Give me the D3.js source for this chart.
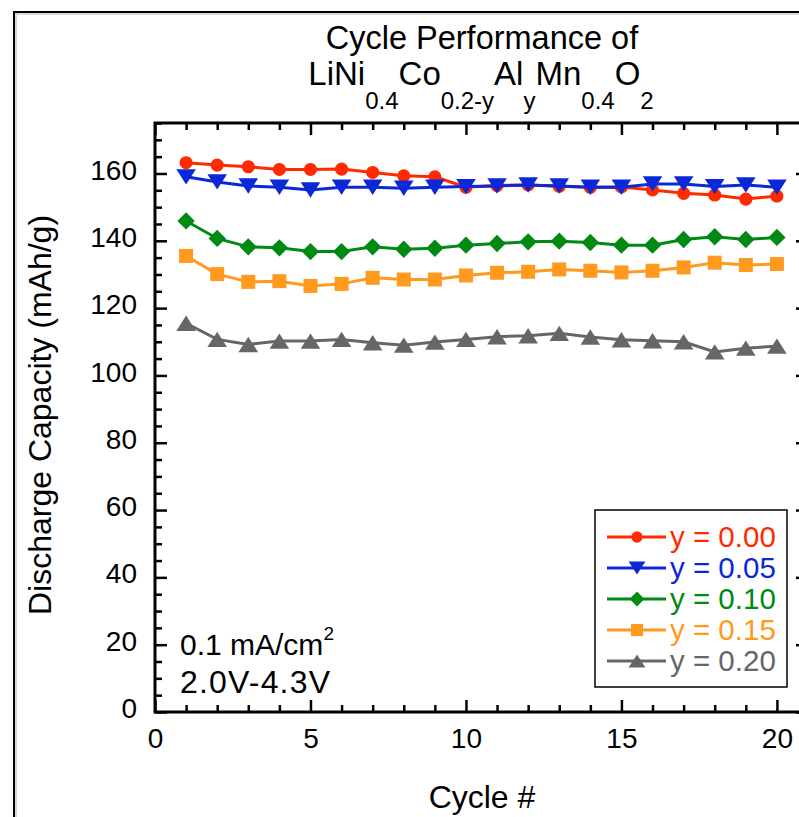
<!DOCTYPE html>
<html>
<head>
<meta charset="utf-8">
<script src="https://cdn.jsdelivr.net/npm/d3@7"></script>
<style>
  body { margin: 0; background: #fff; }
  svg { display: block; }
  text { font-family: "Liberation Sans", Arial, sans-serif; fill: #000; }
</style>
</head>
<body>
<svg id="chart" width="799" height="817"></svg>
<script>
// cycle numbers
var cycles = d3.range(1, 21);

// discharge capacity (mAh/g)
var y000 = [163.2, 162.5, 162.0, 161.2, 161.2, 161.3, 160.3, 159.3, 159.0, 155.9,
            156.4, 156.6, 156.2, 155.9, 156.0, 155.1, 154.1, 153.6, 152.4, 153.3];
var y005 = [159.0, 157.5, 156.3, 155.9, 155.1, 155.9, 155.9, 155.6, 155.9, 156.1,
            156.3, 156.6, 156.3, 155.9, 155.9, 156.9, 156.9, 156.1, 156.6, 155.9];
var y010 = [145.9, 140.7, 138.2, 137.9, 136.8, 136.8, 138.2, 137.5, 137.8, 138.7,
            139.2, 139.7, 139.9, 139.5, 138.7, 138.7, 140.4, 141.2, 140.4, 141.0];
var y015 = [135.5, 130.1, 127.8, 128.0, 126.6, 127.2, 129.0, 128.5, 128.5, 129.7,
            130.5, 130.8, 131.5, 131.1, 130.6, 131.1, 132.1, 133.5, 132.8, 133.1];
var y020 = [115.5, 110.7, 109.2, 110.2, 110.2, 110.7, 109.7, 109.0, 109.9, 110.7,
            111.5, 111.8, 112.5, 111.4, 110.6, 110.3, 110.0, 107.0, 108.1, 108.7];

var seriesNames = ["y = 0.00", "y = 0.05", "y = 0.10", "y = 0.15", "y = 0.20"];
var seriesValues = [y000, y005, y010, y015, y020];
var seriesColors = ["#ff2a00", "#0a28d8", "#008a14", "#ff9a1e", "#666666"];
var seriesShapes = ["circle", "tridown", "diamond", "square", "triup"];

var xMajorTicks = [0, 5, 10, 15, 20];
var yMajorTicks = [0, 20, 40, 60, 80, 100, 120, 140, 160];

var svg = d3.select("#chart");
var plotLeft = 155, plotRight = 808, plotTop = 123, plotBottom = 712;

var x = d3.scaleLinear().domain([0, 21]).range([plotLeft, plotRight]);
var y = d3.scaleLinear().domain([0, 175]).range([plotBottom, plotTop]);

// outer frame of the figure
svg.append("rect")
    .attr("x", 15).attr("y", 13).attr("width", 900).attr("height", 900)
    .attr("fill", "none").attr("stroke", "#d8d8d8").attr("stroke-width", 4);
svg.append("rect")
    .attr("x", 14).attr("y", 12).attr("width", 900).attr("height", 900)
    .attr("fill", "none").attr("stroke", "#000").attr("stroke-width", 2);

// axes: minor and major ticks, pointing inward
function tickAxis(axis, pos, size, values, labels) {
    var g = svg.append("g").attr("transform", pos)
        .call(axis.tickValues(values).tickSize(size).tickPadding(10)
              .tickFormat(labels ? d3.format("d") : ""));
    g.select(".domain").remove();
    g.selectAll("line").attr("stroke", "#000").attr("stroke-width", 2.5);
    g.selectAll("text").attr("font-size", 28).attr("fill", "#000")
        .attr("font-family", "'Liberation Sans', Arial, sans-serif");
    return g;
}

var xMinor = d3.range(0, 22).filter(function(d) { return d % 5 !== 0; });
var yMinor = d3.range(0, 176, 5).filter(function(d) { return d % 20 !== 0; });

tickAxis(d3.axisBottom(x), "translate(0," + plotBottom + ")", -7, xMinor, false);
var xg = tickAxis(d3.axisBottom(x), "translate(0," + plotBottom + ")", -12, xMajorTicks, true);
xg.selectAll("text").attr("dy", "0.71em").attr("y", 16);
tickAxis(d3.axisTop(x), "translate(0," + plotTop + ")", -7, xMinor, false);
tickAxis(d3.axisTop(x), "translate(0," + plotTop + ")", -12, xMajorTicks, false);

tickAxis(d3.axisLeft(y), "translate(" + plotLeft + ",0)", -7, yMinor, false);
var yg = tickAxis(d3.axisLeft(y), "translate(" + plotLeft + ",0)", -12, yMajorTicks, true);
yg.selectAll("text").attr("x", -18).attr("dy", "0.2em");
tickAxis(d3.axisRight(y), "translate(" + plotRight + ",0)", -7, yMinor, false);
tickAxis(d3.axisRight(y), "translate(" + plotRight + ",0)", -12, yMajorTicks, false);

// plot frame
svg.append("rect")
    .attr("x", plotLeft).attr("y", plotTop)
    .attr("width", plotRight - plotLeft).attr("height", plotBottom - plotTop)
    .attr("fill", "none").attr("stroke", "#000").attr("stroke-width", 3);

// marker paths
function markerPath(shape, s) {
    if (shape === "circle") return d3.symbol(d3.symbolCircle, Math.PI * s * s * 0.22)();
    if (shape === "square") return "M" + (-s * 0.5) + "," + (-s * 0.5) + "h" + s + "v" + s + "h" + (-s) + "Z";
    if (shape === "diamond") return "M0," + (-s * 0.62) + "L" + (s * 0.62) + ",0L0," + (s * 0.62) + "L" + (-s * 0.62) + ",0Z";
    var w = s * 1.4, h = s * 1.1;
    if (shape === "triup") return "M0," + (-h / 2) + "L" + (w / 2) + "," + (h / 2) + "L" + (-w / 2) + "," + (h / 2) + "Z";
    return "M0," + (h / 2) + "L" + (w / 2) + "," + (-h / 2) + "L" + (-w / 2) + "," + (-h / 2) + "Z";
}

var line = d3.line()
    .x(function(d, i) { return x(cycles[i]); })
    .y(function(d) { return y(d); });

seriesValues.forEach(function(vals, k) {
    var g = svg.append("g");
    g.append("path")
        .attr("d", line(vals))
        .attr("fill", "none")
        .attr("stroke", seriesColors[k])
        .attr("stroke-width", 3);
    g.selectAll("path.mk").data(vals).enter().append("path")
        .attr("class", "mk")
        .attr("d", markerPath(seriesShapes[k], 14))
        .attr("transform", function(d, i) { return "translate(" + x(cycles[i]) + "," + y(d) + ")"; })
        .attr("fill", seriesColors[k]);
});

// legend
var legend = svg.append("g");
legend.append("rect")
    .attr("x", 595).attr("y", 510).attr("width", 192).attr("height", 177)
    .attr("fill", "#fff").attr("stroke", "#000").attr("stroke-width", 1.5);
seriesNames.forEach(function(name, k) {
    var cy = 537 + k * 31;
    legend.append("line")
        .attr("x1", 607).attr("x2", 666).attr("y1", cy).attr("y2", cy)
        .attr("stroke", seriesColors[k]).attr("stroke-width", 3);
    legend.append("path")
        .attr("d", markerPath(seriesShapes[k], 12))
        .attr("transform", "translate(637," + cy + ")")
        .attr("fill", seriesColors[k]);
    legend.append("text")
        .attr("x", 670).attr("y", cy + 10)
        .attr("font-size", 29.5)
        .style("fill", seriesColors[k])
        .text(name);
});

// annotations
var note = svg.append("text").attr("x", 180).attr("y", 655).attr("font-size", 30);
note.append("tspan").text("0.1 mA/cm");
note.append("tspan").attr("font-size", 19).attr("dy", -15).text("2");
svg.append("text").attr("x", 180).attr("y", 693).attr("font-size", 32)
    .attr("textLength", 150).attr("lengthAdjust", "spacing").text("2.0V-4.3V");

// titles
svg.append("text").attr("x", 482).attr("y", 49).attr("font-size", 32.5)
    .attr("text-anchor", "middle").text("Cycle Performance of");
var formula = svg.append("text").attr("x", 481).attr("y", 85)
    .attr("text-anchor", "middle");
var parts = [["LiNi", false], ["0.4", true], ["Co", false], ["0.2-y", true],
             ["Al", false], ["y", true], ["Mn", false], ["0.4", true], ["O", false], ["2", true]];
parts.forEach(function(p, i) {
    formula.append("tspan")
        .style("font-size", (p[1] ? 24 : 33) + "px")
        .attr("dy", i === 0 ? 0 : (p[1] ? 24 : -24))
        .text(p[0]);
});

svg.append("text").attr("x", 482).attr("y", 808).attr("font-size", 32)
    .attr("text-anchor", "middle").text("Cycle #");
svg.append("text")
    .attr("transform", "translate(51,415) rotate(-90)")
    .attr("font-size", 32).attr("text-anchor", "middle")
    .text("Discharge Capacity (mAh/g)");
</script>
</body>
</html>
